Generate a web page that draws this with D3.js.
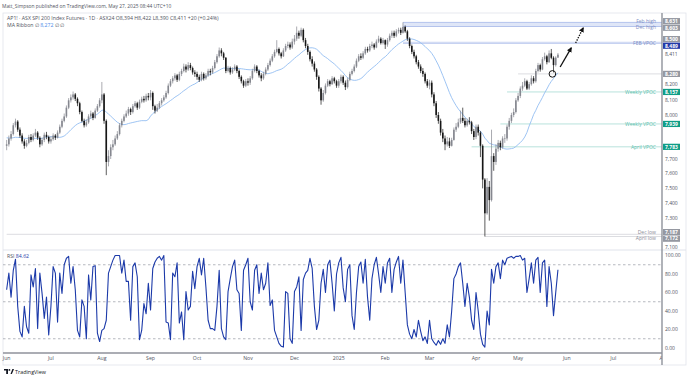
<!DOCTYPE html>
<html>
<head>
<meta charset="utf-8">
<script src="https://cdn.jsdelivr.net/npm/d3@7"></script>
<style>
  body { margin: 0; background: #fff; }
  svg text { font-family: "Open Sans", "Noto Sans", sans-serif; }
</style>
</head>
<body>
<svg id="chart" width="690" height="381"></svg>
<script>
// ---- data ----
const startDate = "2024-06-03";
const holidays = ["2024-12-25", "2024-12-26", "2025-01-01", "2025-01-27", "2025-04-18", "2025-04-21", "2025-04-25"];
const monthTicks = ["Jun", "Jul", "Aug", "Sep", "Oct", "Nov", "Dec", "2025", "Feb", "Mar", "Apr", "May", "Jun", "Jul", "Aug"];

// daily bars, open taken as the previous close
const firstOpen = 7790;
const closes = [
  7800, 7840, 7870, 7930, 7955, 7900, 7860, 7820, 7790, 7810, 7850, 7830, 7860, 7880, 7845, 7800, 7830, 7865, 7850, 7820,
  7835, 7860, 7845, 7880, 7920, 7960, 7990, 8050, 8100, 8120, 8140, 8110, 8080, 8020, 7960, 7930, 7950, 7990, 8010, 7980, 8030, 8060, 8100,
  8140, 7960, 7680, 7720, 7780, 7800, 7840, 7870, 7930, 7960, 7990, 8010, 8040, 8020, 8060, 8080, 8050, 8090, 8110, 8100, 8130, 8120,
  8150, 8060, 8030, 8050, 8080, 8100, 8120, 8150, 8200, 8230, 8250, 8270, 8240, 8280, 8300, 8330, 8310, 8340, 8320, 8290, 8280,
  8260, 8240, 8280, 8250, 8270, 8300, 8290, 8320, 8360, 8400, 8440, 8420, 8390, 8300, 8320, 8290, 8310, 8330, 8300, 8260, 8230, 8200, 8230,
  8220, 8250, 8300, 8330, 8300, 8270, 8250, 8280, 8310, 8340, 8370, 8400, 8430, 8450, 8420, 8400, 8440, 8470, 8480, 8460, 8500,
  8520, 8560, 8540, 8580, 8510, 8470, 8430, 8380, 8350, 8310, 8260, 8180, 8100, 8150, 8200, 8230, 8210, 8250, 8230, 8200,
  8230, 8260, 8220, 8190, 8240, 8280, 8300, 8330, 8370, 8400, 8390, 8420, 8450, 8440, 8470, 8480, 8460, 8500, 8520, 8490, 8510,
  8480, 8510, 8540, 8560, 8540, 8570, 8580, 8560, 8600, 8570, 8520, 8470, 8430, 8400, 8360, 8330, 8300, 8280, 8230, 8200,
  8220, 8140, 8080, 8000, 7960, 7880, 7840, 7800, 7820, 7790, 7830, 7900, 7920, 7950, 7980, 7960, 7930, 7960, 7950, 7890, 7850,
  7920, 7880, 7790, 7560, 7330, 7510, 7420, 7720, 7680, 7770, 7810, 7780, 7840, 7840, 7920, 7960, 8000, 8020, 8100,
  8130, 8180, 8200, 8230, 8180, 8210, 8250, 8230, 8300, 8340, 8310, 8380, 8400, 8360, 8420, 8390, 8340, 8391, 8411
];
const highs = [
  7830, 7860, 7890, 7945, 7975, 7965, 7915, 7875, 7835, 7830, 7865, 7870, 7875, 7905, 7890, 7855, 7845, 7880, 7885, 7860,
  7855, 7875, 7870, 7895, 7935, 7975, 8010, 8065, 8115, 8140, 8160, 8150, 8120, 8090, 8030, 7975, 7970, 8005, 8030, 8020, 8045, 8075, 8115,
  8225, 8150, 7970, 7760, 7800, 7830, 7860, 7890, 7945, 7975, 8005, 8030, 8055, 8050, 8075, 8095, 8090, 8105, 8125, 8130, 8145, 8150,
  8170, 8160, 8070, 8075, 8095, 8115, 8135, 8165, 8215, 8245, 8265, 8285, 8280, 8295, 8315, 8350, 8345, 8360, 8355, 8330, 8305,
  8295, 8275, 8295, 8290, 8285, 8315, 8315, 8335, 8375, 8415, 8460, 8455, 8430, 8395, 8335, 8330, 8325, 8345, 8340, 8310, 8270, 8240, 8245,
  8250, 8265, 8315, 8345, 8340, 8310, 8285, 8295, 8325, 8355, 8385, 8415, 8445, 8510, 8460, 8430, 8455, 8485, 8500, 8495, 8520,
  8545, 8603, 8575, 8595, 8590, 8525, 8485, 8440, 8400, 8365, 8320, 8270, 8190, 8170, 8215, 8245, 8240, 8265, 8260, 8240,
  8245, 8275, 8270, 8235, 8255, 8295, 8315, 8345, 8385, 8415, 8420, 8435, 8465, 8465, 8485, 8500, 8490, 8515, 8540, 8530, 8525,
  8515, 8525, 8555, 8575, 8575, 8585, 8595, 8595, 8631, 8610, 8580, 8530, 8480, 8445, 8410, 8375, 8345, 8320, 8290, 8245,
  8240, 8235, 8155, 8095, 8020, 7975, 7905, 7860, 7850, 7845, 7845, 7915, 7945, 7975, 8030, 8050, 7980, 7975, 7985, 7960, 7905,
  7935, 7935, 7890, 7800, 7570, 7570, 7550, 7900, 7740, 7800, 7830, 7825, 7855, 7870, 7935, 7980, 8015, 8045, 8115,
  8150, 8195, 8225, 8250, 8240, 8225, 8270, 8265, 8315, 8355, 8350, 8395, 8425, 8410, 8440, 8450, 8400, 8400, 8422
];
const lows = [
  7760, 7785, 7825, 7860, 7915, 7885, 7845, 7805, 7770, 7780, 7800, 7815, 7820, 7850, 7830, 7780, 7790, 7815, 7835, 7805,
  7805, 7825, 7830, 7840, 7870, 7910, 7950, 7980, 8040, 8085, 8105, 8095, 8060, 8005, 7950, 7915, 7920, 7940, 7975, 7965, 7975, 8020, 8050,
  8080, 7940, 7590, 7650, 7700, 7760, 7790, 7830, 7860, 7915, 7950, 7980, 7995, 8000, 8010, 8050, 8035, 8040, 8080, 8085, 8090, 8100,
  8100, 8035, 8010, 8020, 8040, 8065, 8090, 8110, 8140, 8190, 8215, 8235, 8225, 8230, 8265, 8290, 8290, 8300, 8305, 8275, 8260,
  8240, 8225, 8230, 8235, 8240, 8260, 8270, 8280, 8310, 8350, 8390, 8400, 8375, 8285, 8290, 8275, 8280, 8300, 8285, 8245, 8215, 8185, 8190,
  8200, 8205, 8240, 8290, 8285, 8255, 8230, 8240, 8270, 8300, 8330, 8360, 8390, 8420, 8405, 8385, 8395, 8430, 8455, 8445, 8450,
  8480, 8505, 8520, 8530, 8495, 8455, 8410, 8365, 8330, 8295, 8240, 8160, 8070, 8090, 8140, 8190, 8195, 8205, 8215, 8185,
  8185, 8215, 8205, 8170, 8180, 8230, 8270, 8290, 8320, 8360, 8375, 8380, 8410, 8425, 8430, 8455, 8445, 8455, 8490, 8480, 8480,
  8450, 8465, 8500, 8525, 8525, 8530, 8555, 8545, 8555, 8560, 8505, 8455, 8415, 8385, 8345, 8315, 8285, 8260, 8215, 8185,
  8175, 8120, 8060, 7980, 7940, 7860, 7815, 7760, 7785, 7775, 7785, 7825, 7885, 7910, 7940, 7945, 7915, 7920, 7935, 7870, 7830,
  7835, 7860, 7713, 7500, 7172, 7320, 7280, 7410, 7620, 7660, 7750, 7760, 7770, 7810, 7825, 7900, 7945, 7985, 8010,
  8090, 8115, 8165, 8190, 8170, 8170, 8200, 8215, 8220, 8290, 8295, 8305, 8370, 8345, 8355, 8380, 8290, 8330, 8390
];
// closes of the 19 sessions before the first bar, so the 20-bar MA starts at bar 0
const preCloses = [7870, 7890, 7860, 7900, 7920, 7880, 7850, 7860, 7830, 7810, 7840, 7870, 7890, 7860, 7820, 7790, 7760, 7780, 7810];
const maPeriod = 20;
const maLegendValue = 8272;

const rsi = [
  63, 81, 55, 84, 96, 45, 18, 12, 45, 23, 16, 79, 66, 86, 21, 81, 59, 32, 55, 14,
  45, 88, 81, 28, 81, 59, 90, 97, 99, 70, 88, 63, 19, 12, 52, 45, 10, 79, 52, 88,
  89, 16, 7, 19, 21, 30, 81, 88, 95, 100, 100, 100, 81, 95, 72, 72, 30, 88, 92, 77,
  9, 19, 48, 37, 70, 41, 86, 93, 97, 99, 95, 100, 28, 27, 9, 81, 77, 92, 27, 39,
  9, 61, 41, 45, 83, 64, 88, 97, 79, 97, 66, 30, 21, 21, 19, 45, 84, 21, 12, 9,
  61, 75, 88, 95, 63, 59, 19, 84, 90, 97, 50, 41, 84, 90, 59, 81, 63, 70, 92, 46,
  52, 19, 12, 5, 2, 1, 61, 59, 10, 5, 61, 66, 77, 19, 74, 81, 84, 97, 86,
  45, 20, 30, 70, 85, 60, 90, 95, 70, 40, 80, 92, 98, 65, 50, 85, 90, 35, 20, 60, 88, 93, 70, 96, 55, 30, 75, 90, 98, 80, 60, 88,
  70, 92, 97, 60, 85, 93, 99, 70, 95, 60, 25, 15, 10, 20, 12, 30, 18, 8, 12, 5,
  30, 10, 6, 3, 8, 4, 10, 5, 25, 12, 40, 75, 80, 88, 92, 70, 45, 70, 55, 30, 20,
  60, 40, 15, 4, 1, 40, 25, 85, 70, 88, 92, 75, 95, 90, 97, 98, 99, 97, 99,
  99, 100, 95, 97, 60, 75, 92, 70, 95, 98, 60, 92, 95, 45, 88, 70, 35, 60, 84.62
];
const rsiBands = [90, 50, 10];
const rsiTicks = [100, 80, 60, 40, 20, 0];

// horizontal levels drawn on the chart: price, label, first bar index
const bandLevels = [
  { top: 8631, bottom: 8603, from: 179 },
  { top: 8500, bottom: 8489, from: 179 }
];
const lineLevels = [
  { price: 8631, name: "Feb high", kind: "blue", from: 179 },
  { price: 8603, name: "Dec high", kind: "blue", from: 179 },
  { price: 8489, name: "FEB VPOC", kind: "blue", from: 179 },
  { price: 8280, name: "", kind: "grey", from: 231 },
  { price: 8157, name: "Weekly VPOC", kind: "teal", from: 226 },
  { price: 7939, name: "Weekly VPOC", kind: "teal", from: 223 },
  { price: 7783, name: "April VPOC", kind: "teal", from: 210 },
  { price: 7187, name: "Dec low", kind: "grey", from: 0 },
  { price: 7172, name: "April low", kind: "grey", from: 216 }
];
// price scale tags: value, style
const axisTags = [
  [8631, "grey"], [8603, "grey"], [8500, "grey"], [8489, "blue"], [8411, "last"],
  [8280, "grey"], [8157, "teal"], [7939, "teal"], [7783, "teal"], [7187, "grey"], [7172, "grey"]
];
// drawings: bar index / price
const solidArrow = [[250, 8327], [255, 8457]];
const dottedArrow = [[257, 8491], [260.4, 8593]];
const marker = [246.5, 8280];

// ---- layout ----
const svg = d3.select("#chart");
const W = 690, H = 381;
const plotLeft = 3, plotRight = 662, plotTop = 13, paneSplit = 250, plotBottom = 353;

const x = d3.scaleLinear().domain([-3, 296]).range([0, plotRight]);
const y = d3.scaleLinear().domain([7080, 8695]).range([paneSplit, plotTop]);
const yR = d3.scaleLinear().domain([0, 100]).range([348, 255.5]);

// trading days
const parse = d3.timeParse("%Y-%m-%d");
const fmt = d3.timeFormat("%Y-%m-%d");
const hol = new Set(holidays);
const dates = [];
let day = parse(startDate);
while (dates.length < 300) {
  const wd = day.getDay();
  if (wd !== 0 && wd !== 6 && !hol.has(fmt(day))) dates.push(day);
  day = d3.timeDay.offset(day, 1);
}

const bars = closes.map((c, i) => ({
  i: i,
  o: i === 0 ? firstOpen : closes[i - 1],
  h: highs[i],
  l: lows[i],
  c: c
}));

// 20 bar simple average
const allCloses = preCloses.concat(closes);
const ma = closes.map((c, i) => {
  const k = i + preCloses.length;
  return d3.mean(allCloses.slice(k - maPeriod + 1, k + 1));
});

svg.append("rect").attr("width", W).attr("height", H).attr("fill", "#fff");

const defs = svg.append("defs");
defs.append("clipPath").attr("id", "plotClip")
  .append("rect").attr("x", plotLeft).attr("y", plotTop).attr("width", plotRight - plotLeft).attr("height", plotBottom - plotTop);
defs.append("clipPath").attr("id", "timeClip")
  .append("rect").attr("x", 0).attr("y", plotBottom).attr("width", plotRight).attr("height", 12);

// frame
svg.append("rect")
  .attr("x", plotLeft).attr("y", plotTop).attr("width", 686 - plotLeft).attr("height", 365 - plotTop)
  .attr("fill", "none").attr("stroke", "#e0e3eb").attr("stroke-width", 0.8);

const plot = svg.append("g").attr("clip-path", "url(#plotClip)");

// level bands and lines
plot.selectAll(null).data(bandLevels).enter().append("rect")
  .attr("x", d => x(d.from)).attr("y", d => y(d.top))
  .attr("width", d => plotRight - x(d.from)).attr("height", d => y(d.bottom) - y(d.top))
  .attr("fill", "#dfe6f7");

const lineColor = { blue: "#b4c3ec", teal: "#b8e2dc", grey: "#dcdde1" };
const textColor = { blue: "#7f8fc4", teal: "#5ebfae", grey: "#8a8d96" };
plot.selectAll(null).data(lineLevels).enter().append("line")
  .attr("x1", d => x(d.from)).attr("x2", plotRight)
  .attr("y1", d => y(d.price)).attr("y2", d => y(d.price))
  .attr("stroke", d => lineColor[d.kind]).attr("stroke-width", 1);

// level names, nudged apart where two sit close together
const names = lineLevels.filter(d => d.name).map(d => ({ d: d, y: y(d.price) }));
names.sort((a, b) => a.y - b.y);
for (let k = 1; k < names.length; k++) {
  if (names[k].y - names[k - 1].y < 5.5) {
    const mid = (names[k].y + names[k - 1].y) / 2;
    names[k - 1].y = mid - 2.9; names[k].y = mid + 2.9;
  }
}
svg.selectAll(null).data(names).enter().append("text")
  .attr("x", 656).attr("y", d => d.y + 1.8)
  .attr("text-anchor", "end").attr("font-size", 5)
  .attr("fill", d => textColor[d.d.kind])
  .text(d => d.d.name);

// moving average
plot.append("path").datum(ma)
  .attr("fill", "none").attr("stroke", "#93bdf2").attr("stroke-width", 0.9)
  .attr("d", d3.line().x((d, i) => x(i)).y(d => y(d)));

// candles
const candle = plot.selectAll(null).data(bars).enter().append("g");
const barCol = d => d.c >= d.o ? "#85878f" : "#161616";
candle.append("line")
  .attr("x1", d => x(d.i)).attr("x2", d => x(d.i))
  .attr("y1", d => y(d.h)).attr("y2", d => y(d.l))
  .attr("stroke", barCol).attr("stroke-width", 0.7);
candle.append("rect")
  .attr("x", d => x(d.i) - 0.8).attr("width", 1.6)
  .attr("y", d => y(Math.max(d.o, d.c)))
  .attr("height", d => Math.max(0.6, Math.abs(y(d.o) - y(d.c))))
  .attr("fill", barCol);

// drawings
defs.append("marker").attr("id", "head").attr("viewBox", "0 0 10 10")
  .attr("refX", 8).attr("refY", 5).attr("markerWidth", 4).attr("markerHeight", 4)
  .attr("orient", "auto")
  .append("path").attr("d", "M0,0L10,5L0,10z").attr("fill", "#111");

svg.append("line")
  .attr("x1", x(solidArrow[0][0])).attr("y1", y(solidArrow[0][1]))
  .attr("x2", x(solidArrow[1][0])).attr("y2", y(solidArrow[1][1]))
  .attr("stroke", "#111").attr("stroke-width", 1.3).attr("marker-end", "url(#head)");
svg.append("line")
  .attr("x1", x(dottedArrow[0][0])).attr("y1", y(dottedArrow[0][1]))
  .attr("x2", x(dottedArrow[1][0])).attr("y2", y(dottedArrow[1][1]))
  .attr("stroke", "#111").attr("stroke-width", 1.3).attr("stroke-dasharray", "1.4,1.2")
  .attr("marker-end", "url(#head)");
svg.append("circle")
  .attr("cx", x(marker[0])).attr("cy", y(marker[1])).attr("r", 3.3)
  .attr("fill", "none").attr("stroke", "#111").attr("stroke-width", 1);

// ---- price scale ----
const tagPos = axisTags.map(t => ({ v: t[0], kind: t[1], y: y(t[0]) }));
tagPos.sort((a, b) => a.y - b.y);
for (let pass = 0; pass < 6; pass++) {
  for (let k = 1; k < tagPos.length; k++) {
    const gap = tagPos[k].y - tagPos[k - 1].y;
    if (gap < 6.6) {
      const push = (6.6 - gap) / 2;
      tagPos[k - 1].y -= push; tagPos[k].y += push;
    }
  }
}
const fmtP = d3.format(",");
// round ticks, hidden under a tag and pushed a little off a tag that sits close
const ticks = d3.range(7100, 8700, 100)
  .filter(v => tagPos.every(t => Math.abs(t.y - y(v)) > 6))
  .map(v => {
    let ty = y(v);
    tagPos.forEach(t => {
      const gap = ty - t.y;
      if (Math.abs(gap) < 7.4) ty = t.y + Math.sign(gap) * 7.4;
    });
    return { v: v, y: ty };
  });
svg.selectAll(null).data(ticks).enter().append("text")
  .attr("x", 665).attr("y", d => d.y + 1.8)
  .attr("font-size", 5).attr("fill", "#50535e")
  .text(d => fmtP(d.v));

const tagFill = { grey: "#9598a1", blue: "#2339a8", teal: "#0f9d86", last: "none" };
const tag = svg.selectAll(null).data(tagPos).enter().append("g");
tag.append("rect")
  .attr("x", 663).attr("y", d => d.y - 3.1).attr("width", 17).attr("height", 6.2)
  .attr("fill", d => tagFill[d.kind]);
tag.append("text")
  .attr("x", 665).attr("y", d => d.y + 1.8)
  .attr("font-size", 5).attr("font-weight", d => d.kind === "last" ? "normal" : "bold")
  .attr("fill", d => d.kind === "last" ? "#50535e" : "#fff")
  .text(d => fmtP(d.v));

// ---- RSI pane ----
svg.append("line").attr("x1", plotLeft).attr("x2", 686).attr("y1", paneSplit).attr("y2", paneSplit)
  .attr("stroke", "#e0e3eb").attr("stroke-width", 1);
svg.selectAll(null).data(rsiBands).enter().append("line")
  .attr("x1", plotLeft).attr("x2", plotRight).attr("y1", d => yR(d)).attr("y2", d => yR(d))
  .attr("stroke", "#a3a6af").attr("stroke-width", 0.8).attr("stroke-dasharray", "2.5,2.5");
svg.append("path").datum(rsi)
  .attr("clip-path", "url(#plotClip)")
  .attr("fill", "none").attr("stroke", "#1c3aa9").attr("stroke-width", 1.1)
  .attr("stroke-linejoin", "round")
  .attr("d", d3.line().x((d, i) => x(i)).y(d => yR(d)));
svg.selectAll(null).data(rsiTicks).enter().append("text")
  .attr("x", 665).attr("y", d => yR(d) + 1.8)
  .attr("font-size", 5).attr("fill", "#50535e")
  .text(d => d3.format(".2f")(d));
const rsiLabel = svg.append("text").attr("x", 7).attr("y", 258).attr("font-size", 5.2);
rsiLabel.append("tspan").attr("fill", "#50535e").text("RSI ");
rsiLabel.append("tspan").attr("fill", "#2339a8").text(d3.format(".2f")(rsi[rsi.length - 1]));

// ---- time axis ----
const monthStarts = [];
dates.forEach((dt, i) => {
  if (i === 0 || dt.getMonth() !== dates[i - 1].getMonth()) monthStarts.push(i);
});
const timeTicks = monthTicks.map((lab, k) => ({ lab: lab, i: monthStarts[k] }));
svg.append("g").attr("clip-path", "url(#timeClip)")
  .selectAll("text").data(timeTicks).enter().append("text")
  .attr("x", d => x(d.i)).attr("y", 360)
  .attr("text-anchor", "middle").attr("font-size", 5.2).attr("fill", "#50535e")
  .text(d => d.lab);

// axis borders
svg.append("line").attr("x1", plotRight).attr("x2", plotRight).attr("y1", plotTop).attr("y2", 365)
  .attr("stroke", "#8f929b").attr("stroke-width", 1.4);
svg.append("line").attr("x1", plotLeft).attr("x2", plotRight).attr("y1", plotBottom).attr("y2", plotBottom)
  .attr("stroke", "#8f929b").attr("stroke-width", 1.4);

// ---- header and legend ----
svg.append("text").attr("x", 2).attr("y", 8).attr("font-size", 4.9).attr("fill", "#50535e")
  .text("Matt_Simpson published on TradingView.com, May 27, 2025 08:44 UTC+10");
svg.append("text").attr("x", 7).attr("y", 20).attr("font-size", 5.2).attr("fill", "#50535e")
  .text("AP1! · ASX SPI 200 Index Futures · 1D · ASX24  O8,394  H8,422  L8,390  C8,411  +20 (+0.24%)");
const maLegend = svg.append("text").attr("x", 7).attr("y", 27).attr("font-size", 5.2);
maLegend.append("tspan").attr("fill", "#50535e").text("MA Ribbon  ∅  ");
maLegend.append("tspan").attr("fill", "#4a8be8").text(fmtP(maLegendValue));
maLegend.append("tspan").attr("fill", "#50535e").text("  ∅  ∅");

// TradingView mark
const logo = svg.append("g").attr("transform", "translate(4,369)");
logo.append("path").attr("d", "M0,0H4V5H2.2V1.6H0Z").attr("fill", "#131722");
logo.append("circle").attr("cx", 5.4).attr("cy", 0.9).attr("r", 0.9).attr("fill", "#131722");
logo.append("path").attr("d", "M6.5,5L8.4,0H10L7.9,5Z").attr("fill", "#131722");
svg.append("text").attr("x", 15).attr("y", 374).attr("font-size", 5.4).attr("fill", "#131722")
  .text("TradingView");
</script>
</body>
</html>
